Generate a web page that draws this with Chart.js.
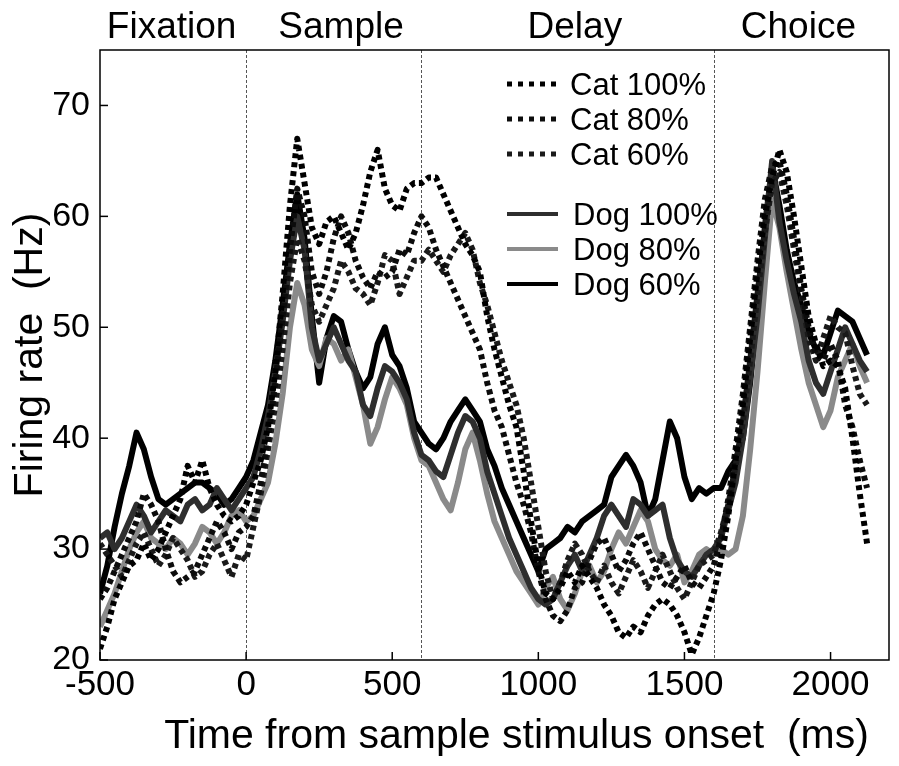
<!DOCTYPE html>
<html><head><meta charset="utf-8">
<script src="https://cdn.jsdelivr.net/npm/chart.js@4.4.1/dist/chart.umd.min.js"></script>
<style>html,body{margin:0;padding:0;background:#fff}#wrap{width:899px;height:766px}</style>
</head><body><div id="wrap"><canvas id="c" width="899" height="766"></canvas></div>
<script>
const times = [
 -500,-475,-450,-425,-400,-375,-350,-325,-300,-275,
 -250,-225,-200,-175,-150,-125,-100,-75,-50,-25,
 0,25,50,75,100,125,150,175,200,225,
 250,275,300,325,350,375,400,425,450,475,
 500,525,550,575,600,625,650,675,700,725,
 750,775,800,825,850,875,900,925,950,975,
 1000,1025,1050,1075,1100,1125,1150,1175,1200,1225,
 1250,1275,1300,1325,1350,1375,1400,1425,1450,1475,
 1500,1525,1550,1575,1600,1625,1650,1675,1700,1725,
 1750,1775,1800,1825,1850,1875,1900,1925,1950,1975,
 2000,2025,2050,2075,2100,2125];
const cat100 = [
 21,23,25.5,27,28.5,29,30.5,29,30,31.5,
 33,34.5,37.5,36,38,35.5,34,33,32.5,33,
 34,36,38,41,46,53,61,67,63,59,
 57.5,59.5,60,58.5,57,58.5,61,64,66,62.5,
 61,60.5,62.5,63,63,63.5,63.5,62,60.5,59,
 57.5,56.5,55,51,48,45.5,43,41,37,32.5,
 28.5,26,25.5,26.5,28,27,28.5,27.5,26.5,25,
 24,22.5,22,23,22.5,24,25,25.5,25,24,
 22.5,20.5,22,24,26,29,33,38,43,49,
 55,60,63.5,66,64,60,55.5,51,48.5,46.5,
 47,46.5,44.5,40,35,30.5];
const cat80 = [
 25.5,26.5,28,29.5,31,32.5,35,34,32.5,30,
 28,27,27.5,28,29.5,31,32.5,31.5,30,31.5,
 32,33,36,40,45,51,57,62.5,60,55,
 53,55,58,60,58.5,56,54.5,53.5,55,54.5,
 55,57,56.5,58.5,60,59,57,55.5,54,52.5,
 51,49.5,48,45,42.5,41,38.5,36,34,31.5,
 28,25.5,24,23.5,24.5,26.5,27,29,30.5,31,
 29.5,28,29,30.5,31.5,30,28.5,27,26.5,27.5,
 28.5,27,26.5,27.5,28.5,31,34.5,39,44,50,
 56,61.5,64.5,65,62,58,53.5,50,47.5,47,
 48.5,47,43,41,38,35.5];
const cat60 = [
 30.5,29.5,28.5,27.5,29,30.5,31.5,30,28.5,29.5,
 31,30,29,27.5,28,29.5,30.5,29,27.5,29.5,
 29,32,35,39,43,48,54,58,56,52,
 50.5,52,53.5,56,55,53.5,53,52,54,56.5,
 56,53,54.5,56,56,57,56,55,56.5,57.5,
 58.5,57,54,52,49.5,47,45,43,40,36,
 32,28,25.5,27,29,30.5,29.5,28,27,28.5,
 27,26,27.5,29,28,26.5,28,29.5,28,26.5,
 25.5,27,28.5,29,29.5,31.5,34,37.5,41.5,47,
 53,58.5,63,64,61,57,53,49,47,49,
 51,50,49.5,46.5,44,43];
const dog100 = [
 31,31.5,30,31,32.5,34,33,31.5,32.5,33.5,
 33,32.5,34,34.5,33.5,34,35.5,34.5,33.5,34.5,
 35.5,36.5,39,42,46,50.5,56,60,57,50,
 47,48.5,50,48.5,47,46,43,42,44.5,46.5,
 46,45,43.5,40.5,38.5,38,37,36.5,38.5,40.5,
 42,41.5,40,37,35,33,31,29.5,28,26.5,
 25.5,25,25.5,27,28.5,29.5,28,29.5,31,33,
 34,33,32,34.5,34,33,33.5,34,31,29,
 28,27.5,28.5,29.5,30,31,33.5,36,40,45.5,
 51,58,65,59.5,56,53,50.5,47,45,44,
 46,48,50,48.5,47,46];
const dog80 = [
 23,24.5,26,28,30,31.5,32.5,31,30.5,30,
 31,30.5,29.5,30.5,32,31.5,30.5,31.5,33,33.5,
 32.5,33,34.5,36,39.5,44,50,54,52,48,
 46.5,49,48.5,47,48,45.5,43,39.5,41,43.5,
 45.5,44.5,43,40,38,37.5,36,34.5,33.5,36,
 39,40.5,38,35,32.5,31,29.5,28,27,26,
 25,26.5,27.5,25.5,24.5,26,28,28.5,27,28,
 30,31.5,30.5,32,33.5,32.5,30,29,28.5,29.5,
 27,28,29.5,30,29.5,30,29.5,30,33,39,
 46,54,61.5,59,55,51.5,48,45,43,41,
 42.5,45.5,47,48.5,46.5,45];
const dog60 = [
 26,28.5,32,35,37.5,40.5,39,36.5,34.5,34,
 34.5,35,35.5,36,36,35.5,35,34,34.5,35.5,
 36.5,38,40.5,43,47,52,57.5,62,58,51,
 45,49,51,50.5,48,46,44.5,45.5,48.5,50,
 47.5,46.5,44.5,41.5,40.5,39.5,39,40,41.5,42.5,
 43.5,42.5,41.5,39,37.5,35.5,34,32.5,31,29.5,
 28,30,30.5,31,32,31.5,32.5,33,33.5,34,
 36.5,37.5,38.5,37.5,36,33,34.5,38,41.5,40,
 36.5,34.5,35.5,35,35.5,35.5,37,38,40,45,
 51.5,59,64.5,61,57,54,52,49.5,48,47.5,
 49.5,51.5,51,50.5,49,47.5];

const seriesNames = ['Cat 100%','Cat 80%','Cat 60%','Dog 100%','Dog 80%','Dog 60%'];
const seriesValues = [cat100, cat80, cat60, dog100, dog80, dog60];
const seriesColors = ['#000000','#0c0c0c','#1a1a1a','#2e2e2e','#8a8a8a','#000000'];
const seriesDotted = [true,true,true,false,false,false];
const xTicks = [-500,0,500,1000,1500,2000];
const yTicks = [20,30,40,50,60,70];
const epochNames = ['Fixation','Sample','Delay','Choice'];
const epochLabelX = [-255,325,1125,1890];
const epochBounds = [0,600,1600];
const xTitle = 'Time from sample stimulus onset  (ms)';
const yTitle = 'Firing rate  (Hz)';

const FONT = "'Liberation Sans', Arial, Helvetica, sans-serif";
Chart.defaults.font.family = FONT;
Chart.defaults.color = '#000';

const datasets = seriesNames.map((name,i)=>({
  label: name,
  data: times.map((t,k)=>({x:t, y:seriesValues[i][k]})),
  borderColor: seriesColors[i],
  backgroundColor: seriesColors[i],
  borderWidth: 6,
  borderDash: seriesDotted[i] ? [5,4] : [],
  borderCapStyle: 'butt',
  borderJoinStyle: 'round',
  pointRadius: 0,
  tension: 0,
  fill: false
}));

const decor = {
  id: 'decor',
  beforeDatasetsDraw(chart){
    const {ctx, chartArea:a, scales:{x}} = chart;
    ctx.save();
    ctx.strokeStyle = '#555'; ctx.lineWidth = 1; ctx.setLineDash([3,2]);
    epochBounds.forEach(v=>{
      const px = Math.round(x.getPixelForValue(v)) + 0.5;
      ctx.beginPath(); ctx.moveTo(px, a.top); ctx.lineTo(px, a.bottom); ctx.stroke();
    });
    ctx.restore();
  },
  afterDraw(chart){
    const {ctx, chartArea:a, scales:{x,y}} = chart;
    ctx.save();
    ctx.strokeStyle = '#000'; ctx.lineWidth = 1.5; ctx.setLineDash([]);
    ctx.strokeRect(a.left, a.top, a.right - a.left, a.bottom - a.top);
    xTicks.forEach(v=>{
      const px = x.getPixelForValue(v);
      ctx.beginPath(); ctx.moveTo(px, a.bottom); ctx.lineTo(px, a.bottom - 8); ctx.stroke();
    });
    yTicks.forEach(v=>{
      const py = y.getPixelForValue(v);
      ctx.beginPath(); ctx.moveTo(a.left, py); ctx.lineTo(a.left + 8, py); ctx.stroke();
    });
    ctx.fillStyle = '#000';
    ctx.font = '37px ' + FONT;
    ctx.textAlign = 'center'; ctx.textBaseline = 'alphabetic';
    epochNames.forEach((n,i)=>{
      ctx.fillText(n, x.getPixelForValue(epochLabelX[i]), a.top - 12);
    });
    // x axis title
    ctx.font = '41px ' + FONT;
    ctx.fillText(xTitle, (a.left + a.right) / 2 + 22, a.bottom + 88);
    // legend
    ctx.font = '31px ' + FONT;
    ctx.textAlign = 'left'; ctx.textBaseline = 'middle';
    chart.data.datasets.forEach((ds,i)=>{
      const ly = 84 + i*35 + (i >= 3 ? 25 : 0);
      ctx.strokeStyle = ds.borderColor;
      ctx.lineWidth = seriesDotted[i] ? 5 : 4;
      ctx.setLineDash(seriesDotted[i] ? [5,6] : []);
      ctx.beginPath(); ctx.moveTo(507, ly); ctx.lineTo(558, ly); ctx.stroke();
      ctx.fillText(ds.label, seriesDotted[i] ? 570 : 573, ly + 2);
    });
    ctx.restore();
  }
};

new Chart(document.getElementById('c'), {
  type: 'line',
  data: { datasets },
  options: {
    responsive: false,
    animation: false,
    devicePixelRatio: 1,
    layout: { padding: { top: 50, right: 10, left: 0, bottom: 0 } },
    plugins: { legend: { display: false }, tooltip: { enabled: false } },
    scales: {
      x: {
        type: 'linear', min: -500, max: 2200,
        afterBuildTicks: s => { s.ticks = xTicks.map(v=>({value:v})); },
        afterFit: s => { s.height = 106; },
        grid: { display: false, drawTicks: false },
        border: { display: false },
        ticks: { font: { size: 35 }, padding: 4, maxRotation: 0, autoSkip: false, color:'#000', callback: v => String(v) },
        title: { display: false, text: xTitle }
      },
      y: {
        type: 'linear', min: 20, max: 75,
        afterBuildTicks: s => { s.ticks = yTicks.map(v=>({value:v})); },
        afterFit: s => { s.width = 100; },
        grid: { display: false, drawTicks: false },
        border: { display: false },
        ticks: { font: { size: 34 }, padding: 10, color:'#000', callback: v => String(v) },
        title: { display: true, text: yTitle, font: { size: 41 }, padding: { top: 6, bottom: 0 }, color:'#000' }
      }
    }
  },
  plugins: [decor]
});
</script></body></html>
